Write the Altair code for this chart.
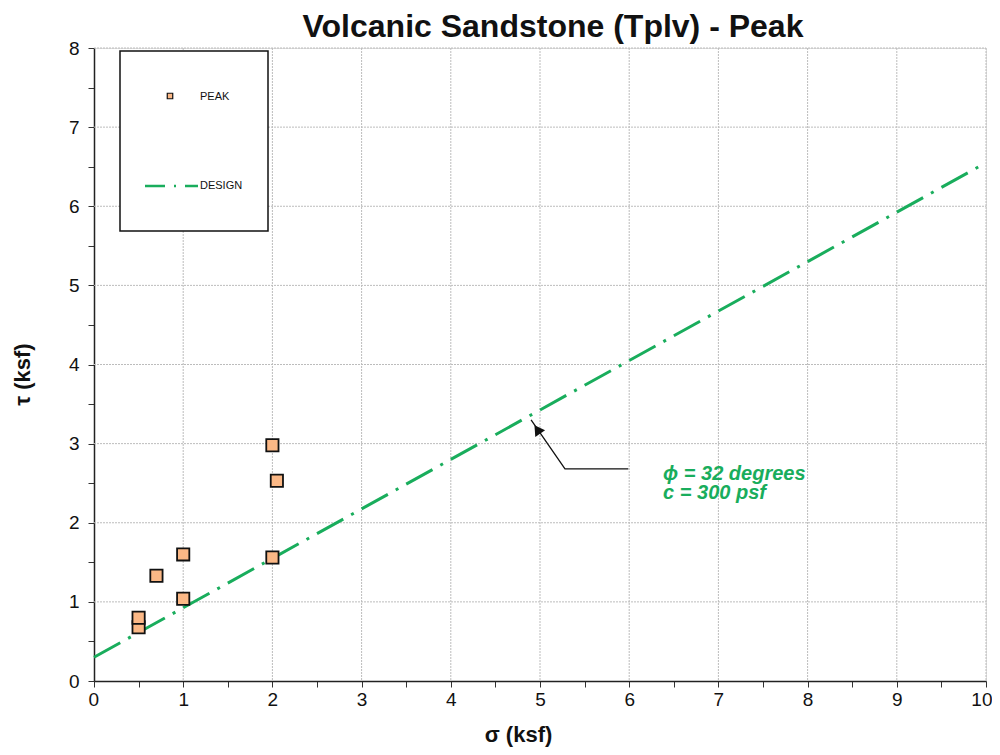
import altair as alt
import pandas as pd

# ---- data ----
peak_sigma = [0.5, 0.5, 0.7, 1.0, 1.0, 2.0, 2.0, 2.05]
peak_tau = [0.68, 0.80, 1.33, 1.04, 1.60, 1.56, 2.98, 2.53]

design_sigma = [0.0, 10.0]
design_tau = [0.30, 6.55]

arrow_sigma = [5.99, 5.28, 4.90]
arrow_tau = [2.68, 2.68, 3.30]

x_grid = [1, 2, 3, 4, 5, 6, 7, 8, 9, 10]
y_grid = [1, 2, 3, 4, 5, 6, 7, 8]
x_ticks = [i * 0.5 for i in range(21)]
y_ticks = [i * 0.5 for i in range(17)]

annot_lines = ["\u03d5 = 32 degrees", "c = 300 psf"]
annot_sigma = [6.38, 6.38]
annot_tau = [2.62, 2.37]

title_text = "Volcanic Sandstone (Tplv) - Peak"

W, H = 892, 633
GREEN = "#19ad5c"
ORANGE = "#fbb886"
FONT = "Liberation Sans, Arial, sans-serif"

xs = alt.Scale(domain=[0, 10], nice=False, zero=False)
ys = alt.Scale(domain=[0, 8], nice=False, zero=False)

LBL = "datum.value % 1 == 0 ? format(datum.value, 'd') : ''"
x_axis = alt.Axis(values=x_ticks, labelExpr=LBL, labelFlush=True, labelFlushOffset=6, labelOverlap=False,
                  grid=False, tickSize=6, tickColor="#333", domainColor="#222", domainWidth=1.5,
                  labelFont=FONT, labelFontSize=19, labelColor="#111", labelPadding=3,
                  title="\u03c3 (ksf)", titleFont=FONT, titleFontSize=22, titleFontWeight="bold",
                  titleColor="#111", titlePadding=15, titleX=424)
y_axis = alt.Axis(values=y_ticks, labelExpr=LBL, labelFlush=False, labelOverlap=False,
                  grid=False, tickSize=6, tickColor="#333", domainColor="#222", domainWidth=1.5,
                  labelFont=FONT, labelFontSize=19, labelColor="#111", labelPadding=9,
                  title="\u03c4 (ksf)", titleFont=FONT, titleFontSize=22, titleFontWeight="bold",
                  titleColor="#111", titlePadding=34, titleY=326)


def X(f):
    return alt.X(f, scale=xs, axis=x_axis)


def Y(f):
    return alt.Y(f, scale=ys, axis=y_axis)


gx = pd.DataFrame({"x": x_grid})
gy = pd.DataFrame({"y": y_grid})
grid_v = alt.Chart(gx).mark_rule(color="#bcbcbc", strokeDash=[2, 1], strokeWidth=1).encode(
    x=X("x:Q"), y=alt.value(0), y2=alt.value(H))
grid_h = alt.Chart(gy).mark_rule(color="#bcbcbc", strokeDash=[2, 1], strokeWidth=1).encode(
    y=Y("y:Q"), x=alt.value(0), x2=alt.value(W))

design = alt.Chart(pd.DataFrame({"s": design_sigma, "t": design_tau})).mark_line(
    color=GREEN, strokeWidth=3, strokeDash=[30, 9, 3, 9]).encode(x=X("s:Q"), y=Y("t:Q"))

points = alt.Chart(pd.DataFrame({"s": peak_sigma, "t": peak_tau})).mark_point(
    shape="square", filled=True, fill=ORANGE, stroke="#111", strokeWidth=1.8, size=150, opacity=1).encode(
    x=X("s:Q"), y=Y("t:Q"))

arrow = alt.Chart(pd.DataFrame({"s": arrow_sigma, "t": arrow_tau, "o": [0, 1, 2]})).mark_line(
    color="#111", strokeWidth=1.3).encode(x=X("s:Q"), y=Y("t:Q"), order="o:Q")

head = alt.Chart(pd.DataFrame({"s": [arrow_sigma[-1] + 0.07], "t": [arrow_tau[-1] - 0.12]})).mark_point(
    shape="triangle-up", filled=True, color="#111", size=140, angle=326, opacity=1).encode(
    x=X("s:Q"), y=Y("t:Q"))

annot = alt.Chart(pd.DataFrame({"s": annot_sigma, "t": annot_tau, "txt": annot_lines})).mark_text(
    align="left", baseline="middle", color=GREEN, font=FONT, fontSize=20, fontWeight="bold",
    fontStyle="italic").encode(x=X("s:Q"), y=Y("t:Q"), text="txt:N")

# ---- legend box and title ----
one = pd.DataFrame({"k": [0]})
leg_box = alt.Chart(one).mark_rect(fill="white", stroke="#111", strokeWidth=1.5).encode(
    x=alt.value(26), x2=alt.value(174), y=alt.value(3), y2=alt.value(183))
leg_sq = alt.Chart(one).mark_point(shape="square", filled=True, fill=ORANGE, stroke="#111",
                                    strokeWidth=1.2, size=30, opacity=1).encode(
    x=alt.value(76), y=alt.value(48))
leg_line = alt.Chart(one).mark_rule(color=GREEN, strokeWidth=2.5, strokeDash=[20, 9, 2, 9]).encode(
    x=alt.value(51), x2=alt.value(104), y=alt.value(138))
leg_txt1 = alt.Chart(one).mark_text(
    align="left", baseline="middle", font=FONT, fontSize=11, color="#111", text="PEAK").encode(
    x=alt.value(106), y=alt.value(49))
leg_txt2 = alt.Chart(one).mark_text(
    align="left", baseline="middle", font=FONT, fontSize=11, color="#111", text="DESIGN").encode(
    x=alt.value(106), y=alt.value(138))
title = alt.Chart(one).mark_text(
    align="center", baseline="alphabetic", font=FONT, fontSize=32, fontWeight="bold", color="#111",
    text=title_text).encode(x=alt.value(459), y=alt.value(-11))

chart = alt.layer(
    grid_v, grid_h, design, arrow, head, points, annot, leg_box, leg_sq, leg_line, leg_txt1, leg_txt2, title
).properties(
    width=W, height=H,
    autosize=alt.AutoSizeParams(type="none"),
    padding={"left": 86, "top": 40, "right": 6, "bottom": 74},
).configure_view(stroke=None).configure(background="white")

chart.save("out.html", embed_options={"renderer": "svg", "actions": False})
